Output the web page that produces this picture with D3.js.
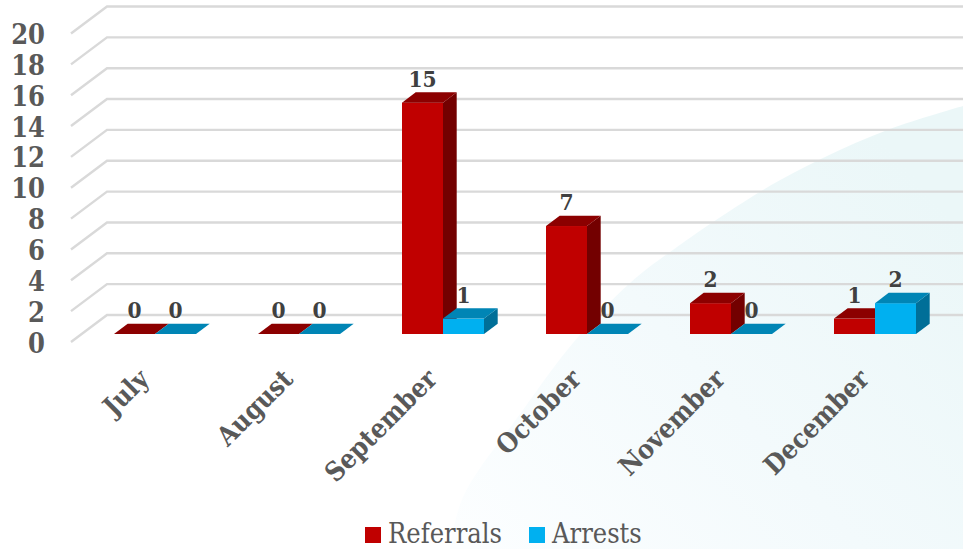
<!DOCTYPE html>
<html><head><meta charset="utf-8">
<script src="https://cdn.jsdelivr.net/npm/d3@7"></script>
<style>html,body{margin:0;padding:0;background:#fff}svg{display:block}</style></head>
<body><svg id="c" width="963" height="549"></svg>
<script>
const months = ["July","August","September","October","November","December"];
const referrals = [0,0,15,7,2,1];
const arrests = [0,0,1,0,0,2];
const yTicks = [0,2,4,6,8,10,12,14,16,18,20];
const seriesNames = ["Referrals","Arrests"];
const bgEdge = [[450,549],[463,497],[523,410],[573,343],[630,283],[677,247],[763,190],[823,158],[890,129],[963,106]];
const font = "'DejaVu Serif Condensed','DejaVu Serif',serif";
const svg = d3.select("#c");
const defs = svg.append("defs");
const g = defs.append("linearGradient").attr("id","bg").attr("gradientUnits","userSpaceOnUse")
  .attr("x1",470).attr("y1",549).attr("x2",900).attr("y2",160);
g.append("stop").attr("offset","0").attr("stop-color","#fcfeff");
g.append("stop").attr("offset","0.5").attr("stop-color","#f3fafc");
g.append("stop").attr("offset","1").attr("stop-color","#ebf7f8");
svg.append("path").attr("fill","url(#bg)")
 .attr("d",d3.line().curve(d3.curveCatmullRom)(bgEdge)+"L963,549Z");

const y = d3.scaleLinear().domain([0,20]).range([342,33.5]);
const x = d3.scaleBand().domain(months).range([43,907]).paddingInner(0).paddingOuter(0);
const backDx=36, backDy=-27;
const grid = svg.append("g");
yTicks.forEach(t=>{
  grid.append("path").attr("fill","none").attr("stroke","#d9d9d9").attr("stroke-width",2.4)
   .attr("d",d3.line()([[71,y(t)],[71+backDx,y(t)+backDy],[963,y(t)+backDy]]));
  svg.append("text").attr("x",45).attr("y",y(t)+10.5).attr("text-anchor","end")
   .attr("font-family",font).attr("font-weight","bold").attr("font-size",27).attr("fill","#595959").text(t);
});
const insetY=8, barW=41, dx=13.7, dy=-10.3;
const baseY=y(0)-insetY;
const colors=[{f:"#c00000",t:"#8c0000",s:"#730000"},{f:"#00b0f0",t:"#0085b5",s:"#006f98"}];
function drawBar(x0,v,c){
  const h=v*(y(0)-y(1)), top=baseY-h;
  const G=svg.append("g");
  if(v>0){
    G.append("path").attr("fill",c.s).attr("d",`M${x0+barW},${top}l${dx},${dy}V${baseY+dy}l${-dx},${-dy}Z`);
    G.append("rect").attr("x",x0).attr("y",top).attr("width",barW).attr("height",h).attr("fill",c.f);
  }
  G.append("path").attr("fill",c.t).attr("d",`M${x0},${top}l${dx},${dy}h${barW}l${-dx},${-dy}Z`);
}
const groupOff=71;
months.forEach((m,i)=>{
  drawBar(x(m)+groupOff,referrals[i],colors[0]);
});
months.forEach((m,i)=>{
  const x0=x(m)+groupOff;
  drawBar(x0+barW,arrests[i],colors[1]);
  [referrals[i],arrests[i]].forEach((v,k)=>{
    const top=baseY-v*(y(0)-y(1));
    svg.append("text").attr("x",x0+barW*k+20.5).attr("y",top-16)
     .attr("text-anchor","middle").attr("font-family",font).attr("font-weight","bold")
     .attr("font-size",22.5).attr("fill","#404040").text(v);
  });
  svg.append("text").attr("transform",`translate(${x0+barW-18.5},366.5) rotate(-45)`)
   .attr("text-anchor","end").attr("dy","0.75em").attr("font-family",font).attr("font-weight","bold")
   .attr("font-size",26.6).attr("fill","#595959").text(m);
});
const lx=[365,529];
seriesNames.forEach((n,i)=>{
  svg.append("rect").attr("x",lx[i]).attr("y",527).attr("width",16).attr("height",16).attr("fill",colors[i].f);
  svg.append("text").attr("x",lx[i]+23).attr("y",542.5).attr("font-family",font)
   .attr("font-size",27).attr("fill","#595959").text(n);
});
</script></body></html>
